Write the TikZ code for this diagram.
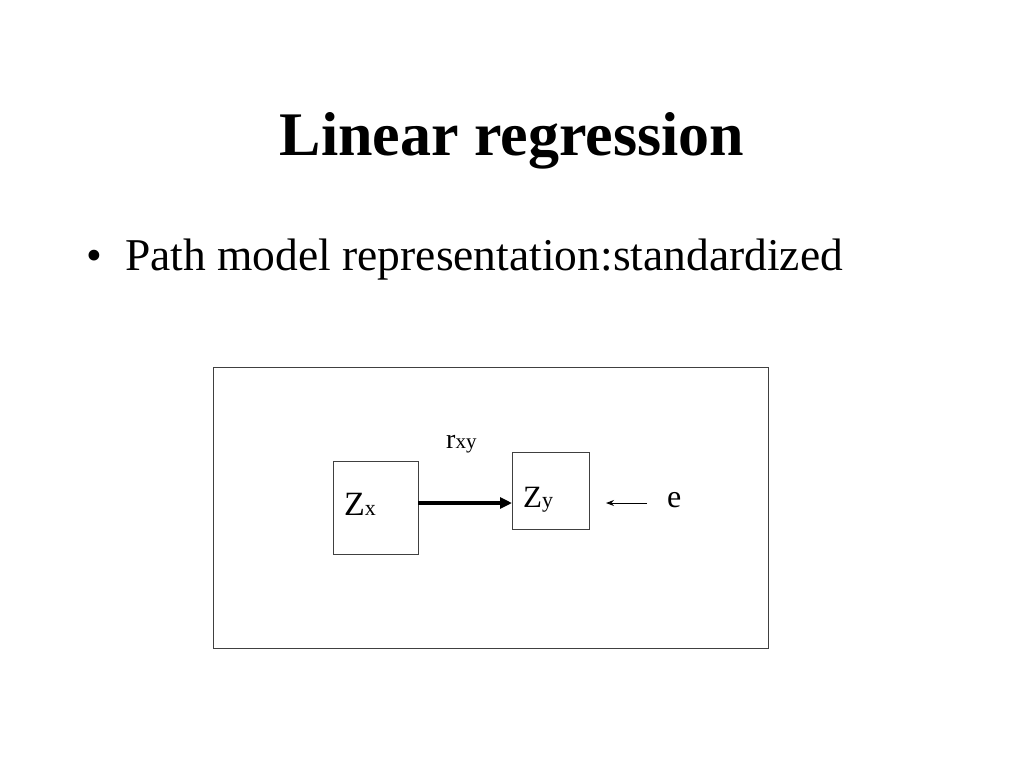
\documentclass[tikz,border=0pt]{standalone}
\usepackage{fontspec}
\setmainfont{Liberation Serif}
\usetikzlibrary{arrows.meta}
\begin{document}
\begin{tikzpicture}[x=1pt,y=-1pt,
  box/.style={draw=black!75,line width=0.9pt},
  lbl/.style={inner sep=0pt,anchor=base west}]
\useasboundingbox[fill=white] (0,0) rectangle (1024,768);
\node[inner sep=0pt,anchor=base] (title) at (512,155) {\fontsize{62}{62}\selectfont\bfseries Linear regression};
\node[lbl] (bul) at (86,270) {\fontsize{45}{45}\selectfont\textbullet};
\node[lbl] (txt) at (125,270) {\fontsize{45.5}{45.5}\selectfont Path model representation:standardized};
\draw[box] (213,367) rectangle (768,648);
\draw[box] (333,461) rectangle (418,554);
\coordinate (zxr) at (418,503);
\draw[box] (512,452) rectangle (589,529);
\coordinate (zyl) at (512,503);
\node[lbl] (zx) at (344,515) {\fontsize{34}{34}\selectfont Z\fontsize{22}{22}\selectfont x};
\node[lbl] (zy) at (523,507) {\fontsize{31}{31}\selectfont Z\fontsize{22}{22}\selectfont y};
\node[lbl] (rxy) at (446,448) {\fontsize{28}{28}\selectfont r\fontsize{21}{21}\selectfont xy};
\node[lbl] (e) at (667,507) {\fontsize{32}{32}\selectfont e};
\coordinate (es) at (647,503);
\coordinate (ee) at (606,503);
\draw[line width=3.5pt,-{Triangle[length=12pt,width=11pt]}] (zxr) -- (zyl);
\draw[line width=1pt,-{Stealth[length=8pt,width=6pt]}] (es) -- (ee);
\end{tikzpicture}
\end{document}
